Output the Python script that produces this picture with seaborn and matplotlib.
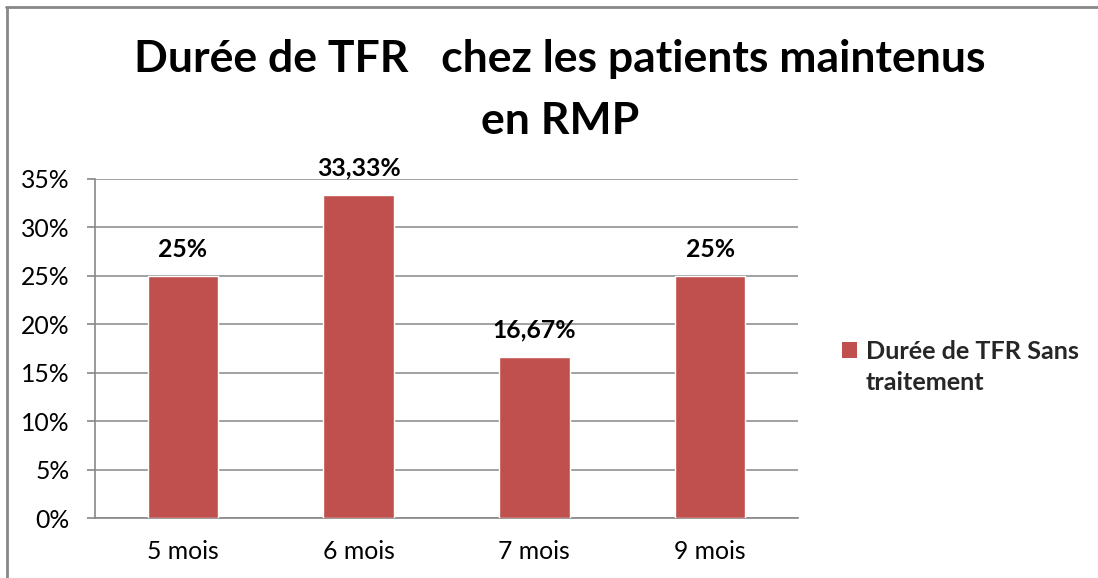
import matplotlib
matplotlib.use("Agg")
import matplotlib.pyplot as plt
from matplotlib.patches import Patch
from matplotlib.lines import Line2D
import seaborn as sns
import pandas as pd

categories = ["5 mois", "6 mois", "7 mois", "9 mois"]
values = [25, 33.33, 16.67, 25]
series_name = ["Durée de TFR Sans", "traitement"]
title = "Durée de TFR   chez les patients maintenus\nen RMP"
y_ticks = [0, 5, 10, 15, 20, 25, 30, 35]

sns.set_theme(style="white")
plt.rcParams["font.family"] = ["Lato", "DejaVu Sans"]

bar_color = "#C0504D"
grid_color = "#888888"
fs = 17.8

df = pd.DataFrame({"cat": categories, "val": values})

fig = plt.figure(figsize=(10.98, 5.78), dpi=100)
ax = fig.add_axes([95 / 1098, 1 - 518 / 578, (798 - 95) / 1098, (518 - 179) / 578])

sns.barplot(data=df, x="cat", y="val", color=bar_color, width=0.4,
            saturation=1, ax=ax, zorder=3)

ax.set_ylim(0, 35)
ax.set_xlim(-0.5, len(categories) - 0.5)
ax.set_yticks(y_ticks)
ax.set_yticklabels([f"{t}%" for t in y_ticks], fontsize=fs, color="black")
ax.set_xticks(range(len(categories)))
ax.set_xticklabels(categories, fontsize=fs, color="black")
ax.set_xlabel("")
ax.set_ylabel("")

# category boundary ticks on the x axis
ax.set_xticks([i - 0.5 for i in range(len(categories) + 1)], minor=True)
ax.tick_params(axis="x", which="major", length=0, pad=16)
ax.tick_params(axis="x", which="minor", length=6, width=1.2, color=grid_color, direction="out")
ax.tick_params(axis="y", length=6, width=1.2, color=grid_color, direction="out", pad=12, left=True)

ax.yaxis.grid(True, color=grid_color, linewidth=1.1, zorder=0)
ax.set_axisbelow(True)
for side in ["top", "right"]:
    ax.spines[side].set_visible(False)
for side in ["left", "bottom"]:
    ax.spines[side].set_color(grid_color)
    ax.spines[side].set_linewidth(1.2)


def fmt(v):
    if abs(v - round(v)) < 1e-9:
        return f"{int(round(v))}%"
    return f"{v:.2f}%".replace(".", ",")


ax.bar_label(ax.containers[0], labels=[fmt(v) for v in values],
             padding=11, fontsize=fs, fontweight="bold", color="black")

fig.text(0.51, 1 - 90 / 578, title, ha="center", va="center",
         fontsize=32, fontweight="bold", color="black", linespacing=1.65)

# legend: swatch beside the first line, wrapped text continues underneath
handles = [Patch(facecolor=bar_color, edgecolor="none"),
           Patch(facecolor="none", edgecolor="none")]
leg = fig.legend(handles=handles, labels=series_name, loc="center left",
                 bbox_to_anchor=(819 / 1098, 1 - 367 / 578), frameon=False,
                 handlelength=0.6, handleheight=0.6, handletextpad=0.35,
                 labelspacing=0.35, prop={"weight": "bold", "size": 18.2})

# outer chart border (left and top edges)
fig.add_artist(Line2D([7 / 1098, 7 / 1098], [0, 1 - 7 / 578], color=grid_color,
                      linewidth=2, transform=fig.transFigure))
fig.add_artist(Line2D([6 / 1098, 1], [1 - 7 / 578, 1 - 7 / 578], color=grid_color,
                      linewidth=2, transform=fig.transFigure))

fig.savefig("out.png", dpi=100, facecolor="white")
